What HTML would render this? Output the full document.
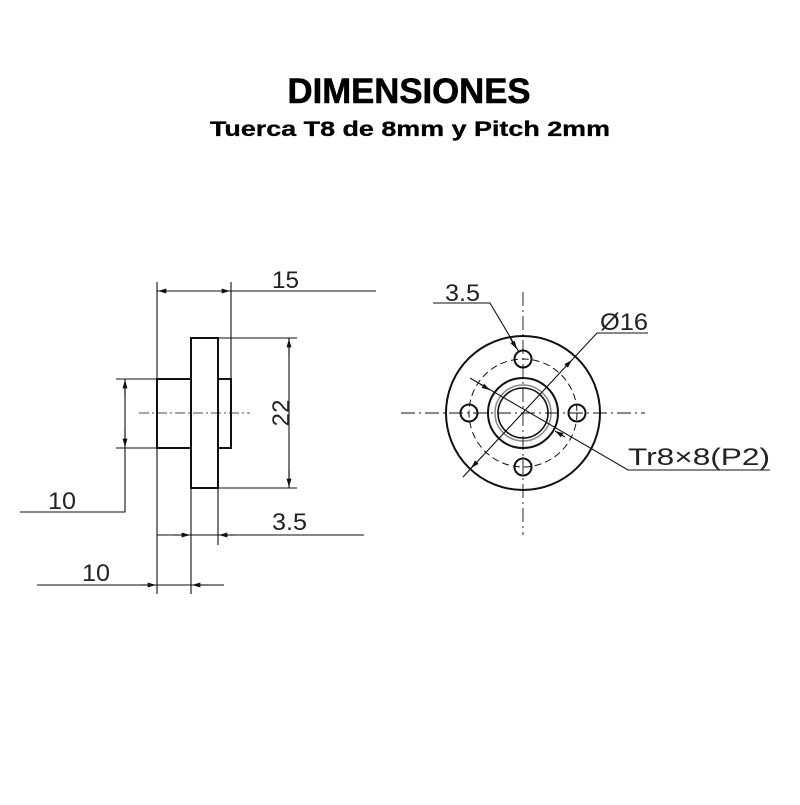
<!DOCTYPE html>
<html><head><style>html,body{margin:0;padding:0;background:#fff}</style></head>
<body>
<svg width="800" height="800" viewBox="0 0 800 800" xmlns="http://www.w3.org/2000/svg">
<defs>
<marker id="a" viewBox="0 0 10 6" refX="10" refY="3" markerWidth="13" markerHeight="5" orient="auto-start-reverse" markerUnits="userSpaceOnUse"><path d="M0,0L10,3L0,6z" fill="#111"/></marker>
</defs>
<rect width="800" height="800" fill="#fff"/>
<text x="409" y="103" font-family="Liberation Sans, sans-serif" font-weight="bold" font-size="35" text-anchor="middle" textLength="243" lengthAdjust="spacingAndGlyphs" stroke="#000" stroke-width="0.6">DIMENSIONES</text>
<text x="410" y="136" font-family="Liberation Sans, sans-serif" font-weight="bold" font-size="21" text-anchor="middle" textLength="400" lengthAdjust="spacingAndGlyphs" stroke="#000" stroke-width="0.3">Tuerca T8 de 8mm y Pitch 2mm</text>

<g stroke="#111" fill="none" stroke-width="1.1">
<line x1="157" y1="282" x2="157" y2="594"/>
<line x1="231" y1="282" x2="231" y2="379"/>
<line x1="191" y1="488" x2="191" y2="594"/>
<line x1="218" y1="488" x2="218" y2="545"/>
<g stroke-width="2">
<rect x="191" y="338" width="27" height="150"/>
<rect x="157" y="379" width="34" height="69"/>
<rect x="218" y="379" width="13" height="69"/>
</g>
<line x1="139" y1="413" x2="250" y2="413" stroke-dasharray="10,3,2,3" stroke-width="0.8"/>
<line x1="157" y1="291" x2="376" y2="291"/>
<line x1="175" y1="291" x2="158" y2="291" marker-end="url(#a)"/>
<line x1="213" y1="291" x2="230" y2="291" marker-end="url(#a)"/>
<line x1="218" y1="338" x2="297" y2="338"/>
<line x1="218" y1="488" x2="297" y2="488"/>
<line x1="289" y1="338" x2="289" y2="488"/>
<line x1="289" y1="356" x2="289" y2="339" marker-end="url(#a)"/>
<line x1="289" y1="470" x2="289" y2="487" marker-end="url(#a)"/>
<line x1="116" y1="379" x2="157" y2="379"/>
<line x1="116" y1="448" x2="157" y2="448"/>
<polyline points="125,379 125,512 20,512"/>
<line x1="125" y1="397" x2="125" y2="380" marker-end="url(#a)"/>
<line x1="125" y1="430" x2="125" y2="447" marker-end="url(#a)"/>
<line x1="157" y1="535" x2="364" y2="535"/>
<line x1="174" y1="535" x2="190" y2="535" marker-end="url(#a)"/>
<line x1="235" y1="535" x2="219" y2="535" marker-end="url(#a)"/>
<line x1="37" y1="585" x2="224" y2="585"/>
<line x1="140" y1="585" x2="156" y2="585" marker-end="url(#a)"/>
<line x1="208" y1="585" x2="192" y2="585" marker-end="url(#a)"/>

<circle cx="523" cy="413" r="77" stroke-width="2"/>
<circle cx="523" cy="413" r="54" stroke-dasharray="7,4" stroke-width="1"/>
<circle cx="523" cy="413" r="35" stroke-width="2"/>
<circle cx="523" cy="413" r="28" stroke="#888" stroke-width="1.5"/>
<circle cx="523" cy="413" r="25" stroke-width="1.6"/>
<circle cx="523" cy="359" r="8.5" stroke-width="2"/>
<circle cx="523" cy="467" r="8.5" stroke-width="2"/>
<circle cx="469" cy="413" r="8.5" stroke-width="2"/>
<circle cx="577" cy="413" r="8.5" stroke-width="2"/>
<line x1="401" y1="413" x2="645" y2="413" stroke-dasharray="14,4,2,4" stroke-width="0.9"/>
<line x1="523" y1="292" x2="523" y2="535" stroke-dasharray="14,4,2,4" stroke-width="0.9"/>
<polyline points="463,477 597,333 648,333"/>
<line x1="477" y1="462" x2="471" y2="468" marker-end="url(#a)"/>
<line x1="565" y1="367" x2="572" y2="360" marker-end="url(#a)"/>
<polyline points="433,303 490,303 519,352"/>
<line x1="510" y1="338" x2="517" y2="349" marker-end="url(#a)"/>
<polyline points="470,378 628,470 770,470"/>
<line x1="480" y1="384" x2="490" y2="390" marker-end="url(#a)"/>
<line x1="565" y1="437" x2="555" y2="431" marker-end="url(#a)"/>
</g>
<g font-family="Liberation Sans, sans-serif" font-size="24" fill="#222" lengthAdjust="spacingAndGlyphs">
<text x="272" y="288" textLength="27" lengthAdjust="spacingAndGlyphs">15</text>
<text x="48" y="509" textLength="28" lengthAdjust="spacingAndGlyphs">10</text>
<text x="272" y="530" textLength="35" lengthAdjust="spacingAndGlyphs">3.5</text>
<text x="82" y="581" textLength="28" lengthAdjust="spacingAndGlyphs">10</text>
<text x="0" y="0" transform="translate(289,413) rotate(-90)" text-anchor="middle" textLength="27" lengthAdjust="spacingAndGlyphs">22</text>
<text x="445" y="301" textLength="35" lengthAdjust="spacingAndGlyphs">3.5</text>
<text x="600" y="330" textLength="48" lengthAdjust="spacingAndGlyphs">Ø16</text>
<text x="628" y="465" textLength="142" lengthAdjust="spacingAndGlyphs">Tr8×8(P2)</text>
</g>
</svg>
</body></html>
